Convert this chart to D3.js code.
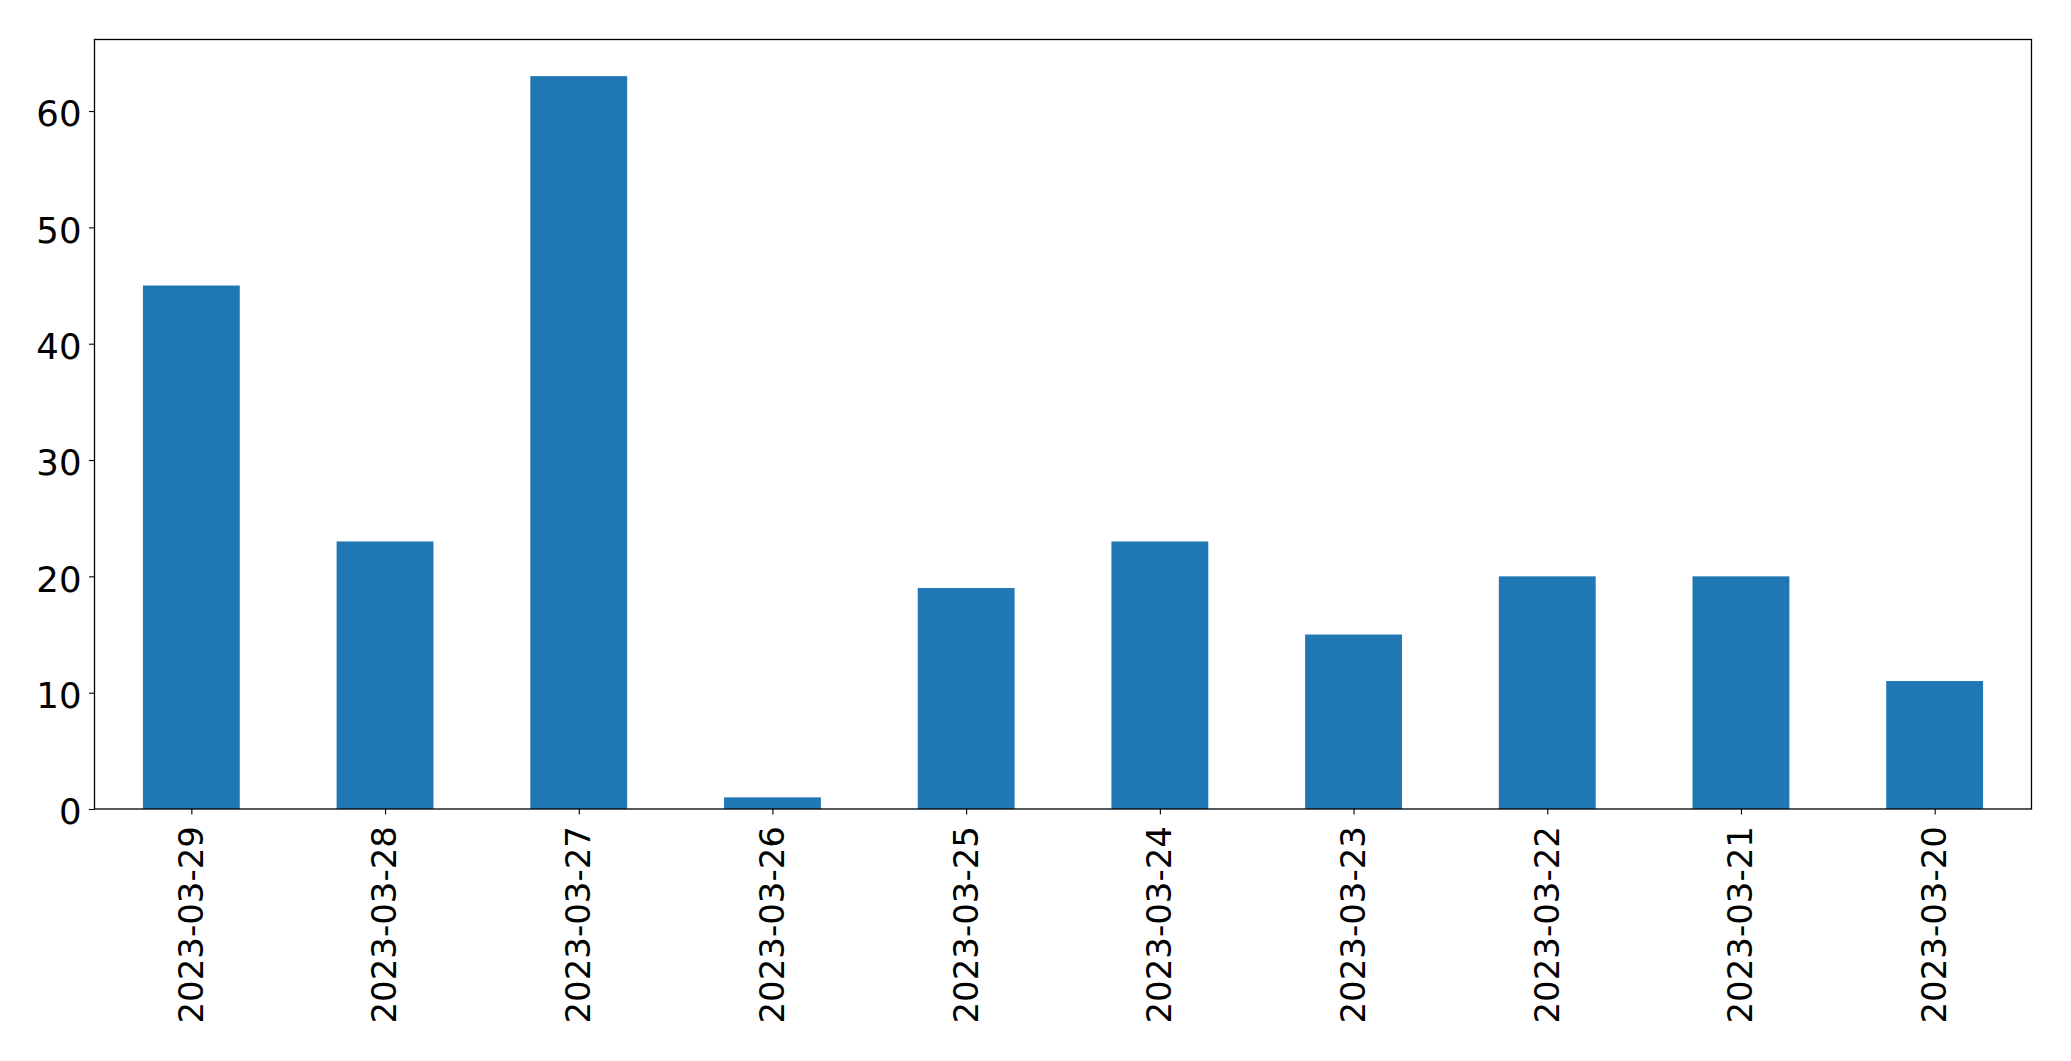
<!DOCTYPE html>
<html>
<head>
<meta charset="utf-8">
<script src="https://d3js.org/d3.v7.min.js"></script>
<style>
  html, body { margin: 0; padding: 0; background: #fff; }
  svg { display: block; }
  text { font-family: "DejaVu Sans", sans-serif; fill: #000; }
</style>
</head>
<body>
<svg id="chart" width="2071" height="1061"></svg>
<script>
const categories = ["2023-03-29","2023-03-28","2023-03-27","2023-03-26","2023-03-25","2023-03-24","2023-03-23","2023-03-22","2023-03-21","2023-03-20"];
const values = [45, 23, 63, 1, 19, 23, 15, 20, 20, 11];
const yTicks = [0, 10, 20, 30, 40, 50, 60];

(function () {
const plotLeft = 94.5, plotRight = 2031.5, plotTop = 39.5, plotBottom = 809;

const svg = d3.select("#chart");

const x = d3.scaleLinear().domain([-0.5, categories.length - 0.5]).range([plotLeft, plotRight]);
const yMax = d3.max(values) * 1.05;
const y = d3.scaleLinear().domain([0, yMax]).range([plotBottom, plotTop]);
const barW = x(0.25) - x(-0.25);

svg.append("g").selectAll("rect").data(values).join("rect")
  .attr("x", (d, i) => x(i) - barW / 2)
  .attr("width", barW)
  .attr("y", d => y(d))
  .attr("height", d => y(0) - y(d))
  .attr("fill", "#1f77b4");

// Y axis
const yAxis = d3.axisLeft(y).tickValues(yTicks).tickSize(5.5).tickPadding(7.5).tickFormat(d3.format("d"));
const gy = svg.append("g").attr("transform", `translate(${plotLeft},0)`).call(yAxis);
gy.select(".domain").remove();
gy.selectAll(".tick line").attr("stroke", "#000").attr("stroke-width", 1.1);
gy.selectAll(".tick text").attr("font-size", 35.5).attr("dy", "0.42em").style("font-family", "DejaVu Sans, sans-serif");

// X axis
const xAxis = d3.axisBottom(x).tickValues(d3.range(categories.length)).tickSize(5.5).tickFormat(i => categories[i]);
const gx = svg.append("g").attr("transform", `translate(0,${plotBottom})`).call(xAxis);
gx.select(".domain").remove();
gx.selectAll(".tick line").attr("stroke", "#000").attr("stroke-width", 1.1);
gx.selectAll(".tick text")
  .attr("font-size", 34)
  .attr("transform", "translate(-1,17) rotate(-90)")
  .attr("x", 0).attr("y", 0).attr("dy", "0.35em")
  .attr("text-anchor", "end")
  .style("font-family", "DejaVu Sans, sans-serif");

// Frame
svg.append("rect")
  .attr("x", plotLeft).attr("y", plotTop)
  .attr("width", plotRight - plotLeft).attr("height", plotBottom - plotTop)
  .attr("fill", "none").attr("stroke", "#000").attr("stroke-width", 1.3);
})();
</script>
</body>
</html>
